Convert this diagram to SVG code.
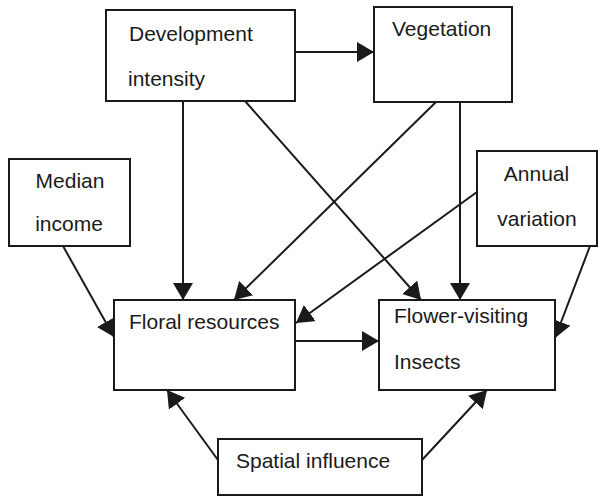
<svg xmlns="http://www.w3.org/2000/svg" width="600" height="497" viewBox="0 0 600 497">
<style>
.box{fill:#fff;stroke:#1a1a1a;stroke-width:2}
.lbl{font-family:"Liberation Sans",Arial,sans-serif;font-size:21px;fill:#1a1a1a}
.edge{stroke:#1a1a1a;stroke-width:2;fill:none;marker-end:url(#arr)}
</style>
<defs>
<marker id="arr" markerUnits="userSpaceOnUse" markerWidth="18" markerHeight="20" refX="17" refY="10" orient="auto">
<path d="M0,0 L17,10 L0,20 z" fill="#1a1a1a"/>
</marker>
</defs>
<rect width="600" height="497" fill="#fff"/>
<g id="connectors">
<line class="edge" x1="295" y1="52" x2="374" y2="52"/>
<line class="edge" x1="183" y1="101" x2="183" y2="300"/>
<line class="edge" x1="245" y1="101" x2="421" y2="300"/>
<line class="edge" x1="436" y1="102" x2="234" y2="300"/>
<line class="edge" x1="460" y1="102" x2="460" y2="300"/>
<line class="edge" x1="477" y1="192" x2="296" y2="323"/>
<line class="edge" x1="63" y1="246" x2="114" y2="337"/>
<line class="edge" x1="590" y1="246" x2="555" y2="338"/>
<line class="edge" x1="295" y1="341" x2="379" y2="341"/>
<line class="edge" x1="218" y1="460" x2="167" y2="390"/>
<line class="edge" x1="422" y1="460" x2="487" y2="390"/>
</g>
<g id="development">
<rect class="box" x="106" y="10" width="189" height="91"/>
<text class="lbl" x="129" y="41">Development</text>
<text class="lbl" x="128" y="86">intensity</text>
</g>
<g id="vegetation">
<rect class="box" x="374" y="7" width="138" height="95"/>
<text class="lbl" x="392" y="36">Vegetation</text>
</g>
<g id="median">
<rect class="box" x="9" y="159" width="121" height="87"/>
<text class="lbl" x="70" y="188" text-anchor="middle">Median</text>
<text class="lbl" x="69" y="231" text-anchor="middle">income</text>
</g>
<g id="annual">
<rect class="box" x="477" y="151" width="120" height="95"/>
<text class="lbl" x="536.5" y="181" text-anchor="middle">Annual</text>
<text class="lbl" x="537" y="226" text-anchor="middle">variation</text>
</g>
<g id="floral">
<rect class="box" x="114" y="300" width="181" height="90"/>
<text class="lbl" x="129" y="329">Floral resources</text>
</g>
<g id="insects">
<rect class="box" x="379" y="300" width="176" height="90"/>
<text class="lbl" x="394" y="323">Flower-visiting</text>
<text class="lbl" x="394" y="369">Insects</text>
</g>
<g id="spatial">
<rect class="box" x="218" y="439" width="204" height="56"/>
<text class="lbl" x="236" y="468">Spatial influence</text>
</g>
</svg>
